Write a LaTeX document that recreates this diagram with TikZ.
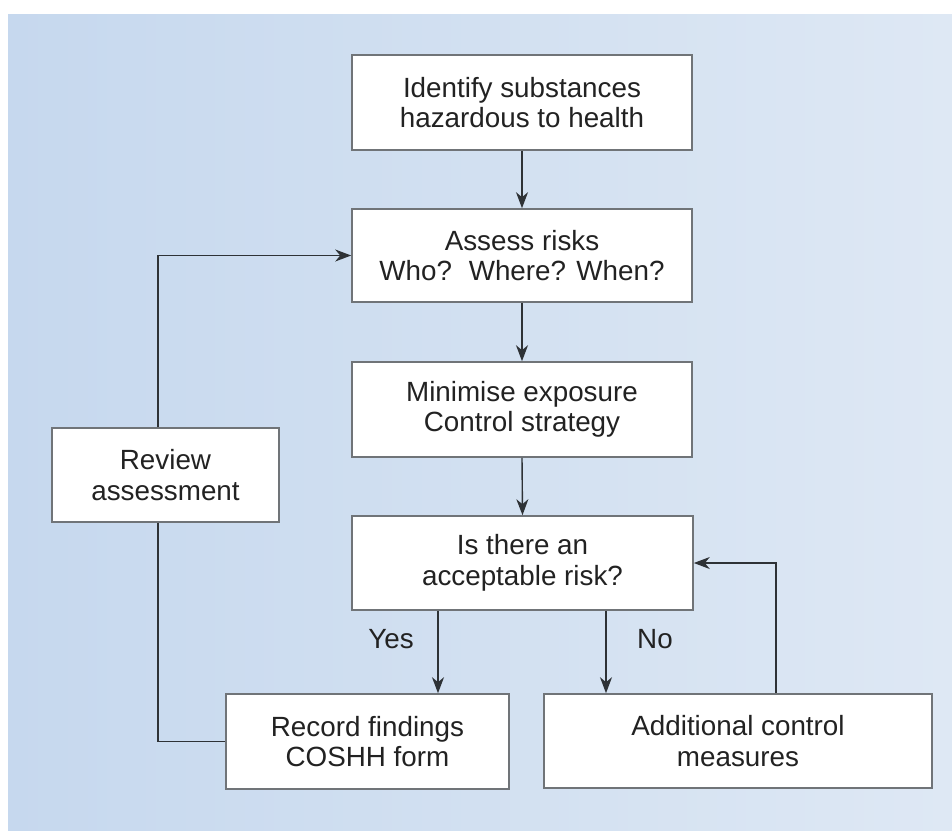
\documentclass[tikz,border=0pt]{standalone}
\usepackage{fontspec}
\setmainfont{Liberation Sans}
\usetikzlibrary{arrows.meta}
\definecolor{bgL}{HTML}{C6D8EE}
\definecolor{bgR}{HTML}{DEE8F4}
\definecolor{boxline}{HTML}{707478}
\definecolor{conn}{HTML}{2E3236}
\definecolor{txt}{HTML}{222222}
\tikzset{
  flowbox/.style={draw=boxline, line width=1.6pt, fill=white, inner sep=0pt,
    align=center, text=txt, font=\fontsize{27.8}{30.5}\selectfont},
  arr/.style={draw=conn, line width=1.4pt, -{Stealth[length=16pt,width=12pt,inset=5pt]}},
  plain/.style={draw=conn, line width=1.4pt},
  lbl/.style={text=txt, font=\fontsize{27.8}{30.5}\selectfont, inner sep=0pt, anchor=base}
}
\begin{document}
\begin{tikzpicture}[x=1pt,y=-1pt]
\useasboundingbox (0,0) rectangle (952,830);
\fill[white] (0,0) rectangle (952,830);
\shade[left color=bgL, right color=bgR] (8,14) rectangle (952,830);

\node[flowbox, minimum width=340pt, minimum height=95pt] (b1) at (522,102.5) {Identify substances\\hazardous to health};
\node[flowbox, minimum width=340pt, minimum height=93pt] (b2) at (522,255.5) {Assess risks\\Who?\hspace{0.6em}Where? When?};
\node[flowbox, minimum width=340pt, minimum height=95pt] (b3) at (522,409.5) {Minimise exposure\\Control strategy};
\node[flowbox, minimum width=341pt, minimum height=94pt] (b4) at (522.5,563) {Is there an\\acceptable risk?};
\node[flowbox, minimum width=227pt, minimum height=94pt] (rev) at (165.5,475) {Review\\assessment};
\node[flowbox, minimum width=283pt, minimum height=95pt] (rec) at (367.5,741.5) {Record findings\\COSHH form};
\node[flowbox, minimum width=388pt, minimum height=94pt] (add) at (738,741) {Additional control\\measures};

\coordinate (yesx) at (438,0);
\coordinate (nox) at (606,0);
\coordinate (fbx) at (776,0);
\coordinate (revx) at (158,0);

\draw[arr] (b1.south) -- (b2.north);
\draw[arr] (b2.south) -- (b3.north);
\draw[arr] (b3.south) -- (b4.north);
\draw[arr] (b4.south -| yesx) -- (rec.north -| yesx);
\draw[arr] (b4.south -| nox) -- (add.north -| nox);
\draw[arr] (add.north -| fbx) |- (b4.east);
\draw[arr] (rev.north -| revx) |- (b2.west);
\draw[plain] (rev.south -| revx) |- (rec.west);

\node[lbl] (yes) at (391,648) {Yes};
\node[lbl] (no) at (655,648) {No};
\end{tikzpicture}
\end{document}
